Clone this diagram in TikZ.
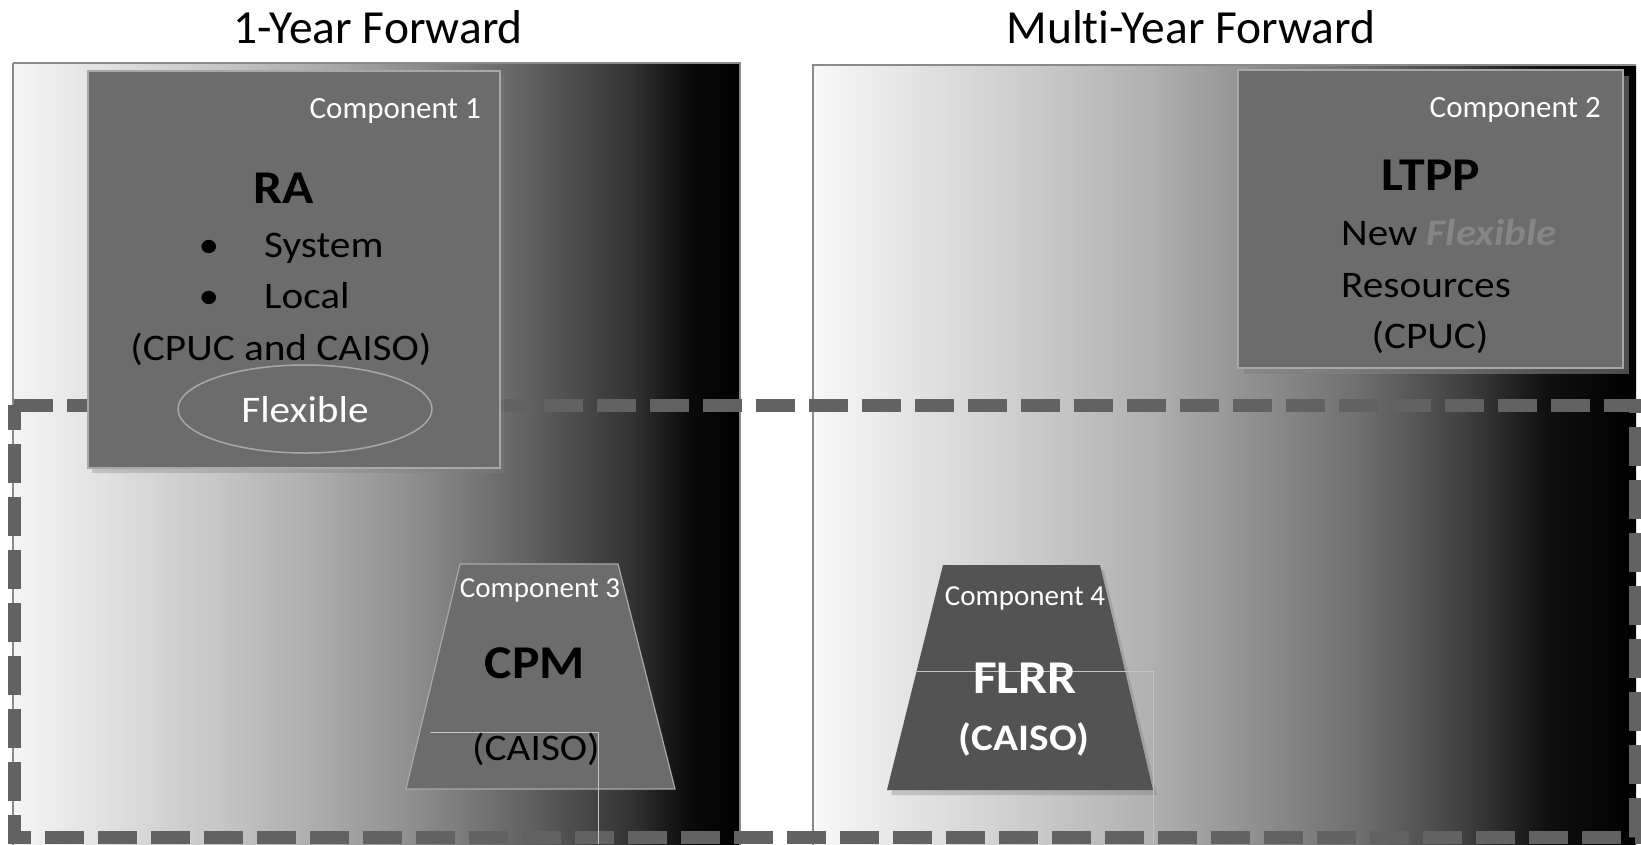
\documentclass[tikz,border=0pt]{standalone}
\usepackage{fontspec}
\setmainfont[Ligatures=NoCommon]{Carlito}
\newfontfamily\wfont[FakeStretch=1.1,Ligatures=NoCommon]{Carlito}
\usetikzlibrary{shadows}
\definecolor{boxgray}{HTML}{6C6C6C}
\definecolor{boxedge}{HTML}{A8A8A8}
\definecolor{compfour}{HTML}{535353}
\definecolor{dashgray}{HTML}{626262}
\definecolor{panelline}{HTML}{8A8A8A}
\definecolor{faintline}{HTML}{C4C4C4}
\definecolor{flexgray}{HTML}{858585}
\definecolor{lpa}{HTML}{F4F4F4}
\definecolor{lpb}{HTML}{E0E0E0}
\definecolor{lpc}{HTML}{C8C8C8}
\definecolor{lpd}{HTML}{AEAEAE}
\definecolor{lpe}{HTML}{8E8E8E}
\definecolor{lpf}{HTML}{646464}
\definecolor{lpg}{HTML}{333333}
\definecolor{lph}{HTML}{0A0A0A}
\definecolor{rpa}{HTML}{F8F8F8}
\definecolor{rpb}{HTML}{C8C8C8}
\definecolor{rpc}{HTML}{B0B0B0}
\definecolor{rpd}{HTML}{707070}
\definecolor{rpe}{HTML}{404040}
\definecolor{rpf}{HTML}{101010}
% horizontal shadings: path width maps to 25bp..75bp
\pgfdeclarehorizontalshading{lpanel}{100bp}{color(0bp)=(lpa); color(25bp)=(lpa); color(31.5bp)=(lpb); color(38.5bp)=(lpc); color(45.5bp)=(lpd); color(52.5bp)=(lpe); color(60bp)=(lpf); color(67.5bp)=(lpg); color(71.5bp)=(lph); color(75bp)=(black); color(100bp)=(black)}
\pgfdeclarehorizontalshading{rpanel}{100bp}{color(0bp)=(rpa); color(25bp)=(rpa); color(39bp)=(rpb); color(45.5bp)=(rpc); color(58bp)=(rpd); color(64.5bp)=(rpe); color(69.5bp)=(rpf); color(75bp)=(black); color(100bp)=(black)}
\begin{document}
\begin{tikzpicture}[x=1pt,y=-1pt,
  title/.style={inner sep=0pt, anchor=base, font=\fontsize{47.5}{52}\selectfont},
  complabel/.style={inner sep=0pt, text=white, font=\fontsize{31}{35}\selectfont},
  heading/.style={inner sep=0pt, anchor=base, font=\wfont\bfseries\fontsize{47}{51}\selectfont},
  body/.style={inner sep=0pt, font=\wfont\fontsize{37.5}{42}\selectfont},
  panelborder/.style={draw=panelline, line width=1.2pt},
  compbox/.style={fill=boxgray, draw=boxedge, line width=1.2pt},
  boxshadow/.style={drop shadow={shadow xshift=4pt, shadow yshift=-5pt, opacity=0.35}},
  darkshadow/.style={drop shadow={shadow xshift=6pt, shadow yshift=-6pt, opacity=0.6}},
  dashframe/.style={draw=dashgray, line width=13pt, dash pattern=on 39pt off 14pt},
  faint/.style={draw=faintline, line width=0.9pt}
]
\useasboundingbox (0,0) rectangle (1641,844);
\fill[white] (0,0) rectangle (1641,844);

% titles
\node[title] (t1) at (378,43) {1-Year Forward};
\node[title] (t2) at (1191,43) {Multi-Year Forward};

% panels
\shade[shading=lpanel] (13,63) rectangle (740,846);
\draw[panelborder] (13,63) -- (740,63) -- (740,846);
\draw[panelborder] (13,846) -- (13,63);
\shade[shading=rpanel] (813,65) rectangle (1636,846);
\draw[panelborder] (813,846) -- (813,65) -- (1636,65);

% dashed frame
\draw[dashframe] (14,405) -- (1635,405) -- (1635,837) -- (14,837) -- cycle;

% component 1 (RA)
\draw[compbox, boxshadow] (88,71) rectangle (500,468);
\draw[fill=boxgray, draw=boxedge, line width=1.5pt] (305,409) ellipse [x radius=127, y radius=44];
\node[complabel, anchor=base east] (c1) at (481,118) {Component 1};
\node[heading] (ra) at (284,203) {RA};
\node[body, anchor=base] (b1) at (209,257) {•};
\node[body, anchor=base west] (sys) at (264,257) {System};
\node[body, anchor=base] (b2) at (209,308) {•};
\node[body, anchor=base west] (loc) at (264,308) {Local};
\node[body, anchor=base] (cc) at (281,360) {(CPUC and CAISO)};
\node[body, anchor=base, text=white] (flex) at (305,422) {Flexible};

% component 2 (LTPP)
\draw[compbox, darkshadow] (1238,70) rectangle (1623,368);
\node[complabel, anchor=base east] (c2) at (1601,117) {Component 2};
\node[heading] (ltpp) at (1431,190) {LTPP};
\node[body, anchor=base west] (new) at (1341,245) {New \textcolor{flexgray}{\bfseries\itshape Flexible}};
\node[body, anchor=base west] (res) at (1341,297) {Resources};
\node[body, anchor=base] (cpuc) at (1430,348) {(CPUC)};

% component 3 (CPM)
\draw[compbox] (460,564) -- (618,564) -- (675,789) -- (406,789) -- cycle;
\draw[faint] (430,732) -- (598,732) -- (598,844);
\node[complabel, anchor=base, font=\fontsize{29}{33}\selectfont] (c3) at (540,597) {Component 3};
\node[heading] (cpm) at (535,678) {CPM};
\node[body, anchor=base] (caiso3) at (536,760) {(CAISO)};

% component 4 (FLRR)
\fill[compfour, boxshadow] (943,565) -- (1100,565) -- (1153,790) -- (887,790) -- cycle;
\draw[faint] (915,671) -- (1153,671) -- (1153,844);
\node[complabel, anchor=base, font=\fontsize{29}{33}\selectfont] (c4) at (1025,605) {Component 4};
\node[heading, text=white] (flrr) at (1025,693) {FLRR};
\node[body, anchor=base, text=white, font=\wfont\bfseries\fontsize{37.5}{42}\selectfont] (caiso4) at (1024,750) {(CAISO)};
\end{tikzpicture}
\end{document}
